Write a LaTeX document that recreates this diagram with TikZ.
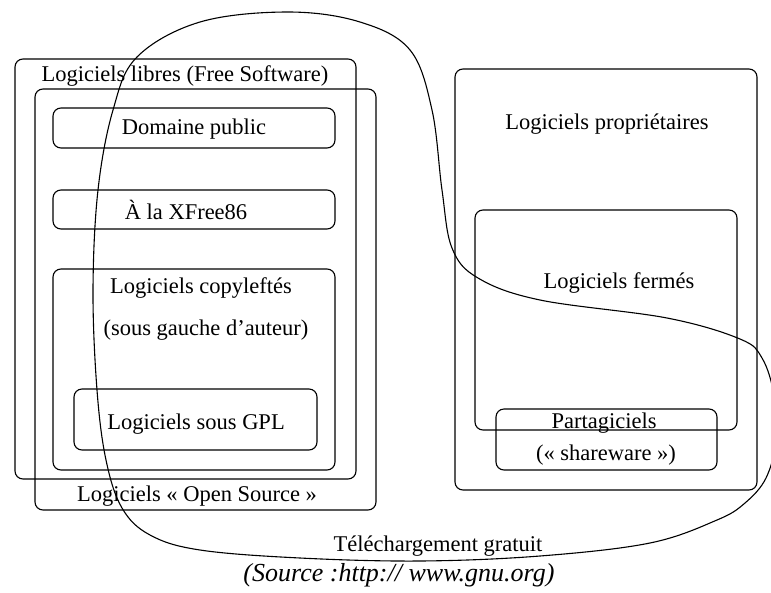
\documentclass[tikz,border=0pt]{standalone}
\usepackage{fontspec}
\setmainfont{Liberation Serif}
\tikzset{box/.style={draw, rounded corners=8pt},
  lab/.style={font=\fontsize{22.5}{26}\selectfont, inner sep=1pt}}

\begin{document}
\begin{tikzpicture}[x=1pt, y=-1pt, line width=1.1pt]
\useasboundingbox (0,0) rectangle (771,592);
% free / open source side
\draw[box] (15,59) rectangle (356,479);
\draw[box] (35,89) rectangle (376,510);
\draw[box] (53,108) rectangle (335,148);
\draw[box] (53,190) rectangle (335,229);
\draw[box] (53,269) rectangle (335,470);
\draw[box] (74,389) rectangle (317,450);
\node[lab] (libres) at (185,76) {Logiciels libres (Free Software)};
\node[lab] (opensrc) at (197,496) {Logiciels « Open Source »};
\node[lab] (domaine) at (194,129) {Domaine public};
\node[lab] (xfree) at (186,210) {À la XFree86};
\node[lab] (copyleft) at (201,288) {Logiciels copyleftés};
\node[lab] (gauche) at (206,330) {(sous gauche d'auteur)};
\node[lab] (gpl) at (196,424) {Logiciels sous GPL};
% proprietary side
\draw[box] (455,69) rectangle (757,490);
\draw[box] (475,210) rectangle (737,430);
\draw[box] (496,409) rectangle (717,470);
\node[lab] (proprio) at (607,124) {Logiciels propriétaires};
\node[lab] (fermes) at (619,283) {Logiciels fermés};
\node[lab] (partag) at (604,423) {Partagiciels};
\node[lab] (share) at (606,455) {(« shareware »)};
% free download
\begin{scope}
\clip (0,0) rectangle (771,592);
\draw plot[smooth cycle, tension=0.6] coordinates {
  (288,12) (360,22) (410,50) (432,110) (442,190) (452,248) (478,278)
  (540,300) (667,318) (740,339) (762,358) (774,395) (776,440) (766,478)
  (745,503) (717,520) (650,543) (540,556) (420,561) (300,558) (200,550)
  (150,535) (122,508) (106,460) (97,390) (93,290) (98,190) (113,110)
  (137,57) (200,22)};
\end{scope}
\node[lab] (gratuit) at (438,546) {Téléchargement gratuit};
\node[font=\fontsize{26}{30}\selectfont\itshape, inner sep=1pt] (source) at (399,575) {(Source :http:// www.gnu.org)};
\end{tikzpicture}
\end{document}
